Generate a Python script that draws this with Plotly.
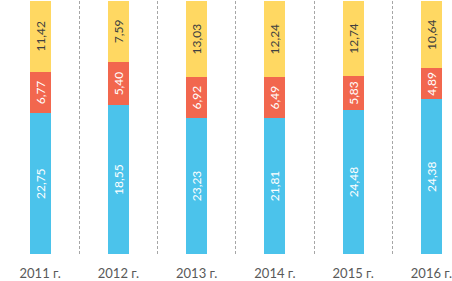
import plotly.graph_objects as go

categories = ["2011 г.", "2012 г.", "2013 г.", "2014 г.", "2015 г.", "2016 г."]
blue_vals = [22.75, 18.55, 23.23, 21.81, 24.48, 24.38]
red_vals = [6.77, 5.40, 6.92, 6.49, 5.83, 4.89]
yellow_vals = [11.42, 7.59, 13.03, 12.24, 12.74, 10.64]

def fmt(v):
    return f"{v:.2f}".replace(".", ",")

font_family = "Lato, 'Open Sans', sans-serif"

fig = go.Figure()
series = [
    (blue_vals, "#4BC3EB", "white"),
    (red_vals, "#F2674E", "white"),
    (yellow_vals, "#FFD862", "#404040"),
]
for vals, color, tcolor in series:
    fig.add_trace(go.Bar(
        x=categories, y=vals,
        marker=dict(color=color, line=dict(width=0)),
        text=[fmt(v) for v in vals],
        texttemplate="%{text}",
        textposition="inside",
        insidetextanchor="middle",
        textangle=-90,
        textfont=dict(color=tcolor, size=12, family=font_family),
        constraintext="none",
        hoverinfo="skip",
    ))

fig.update_layout(
    barmode="stack",
    barnorm="percent",
    bargap=0.73,
    width=452, height=281,
    margin=dict(l=1, r=0, t=1, b=24),
    plot_bgcolor="white", paper_bgcolor="white",
    showlegend=False,
    uniformtext=dict(minsize=12, mode="show"),
    xaxis=dict(
        type="category",
        range=[-0.5, 5.25],
        tickson="boundaries",
        showgrid=True,
        gridcolor="#A6A6A6",
        griddash="3px,2px",
        gridwidth=1,
        ticks="",
        showline=False,
        zeroline=False,
        ticklabelstandoff=10,
        tickfont=dict(color="#595959", size=13, family=font_family),
    ),
    yaxis=dict(
        range=[0, 100],
        showgrid=False,
        showticklabels=False,
        zeroline=False,
        showline=False,
        ticks="",
    ),
)

fig.write_html(
    "out.html",
    config={"displayModeBar": False},
    post_script="document.body.style.margin='0';document.body.style.overflow='hidden';",
)
